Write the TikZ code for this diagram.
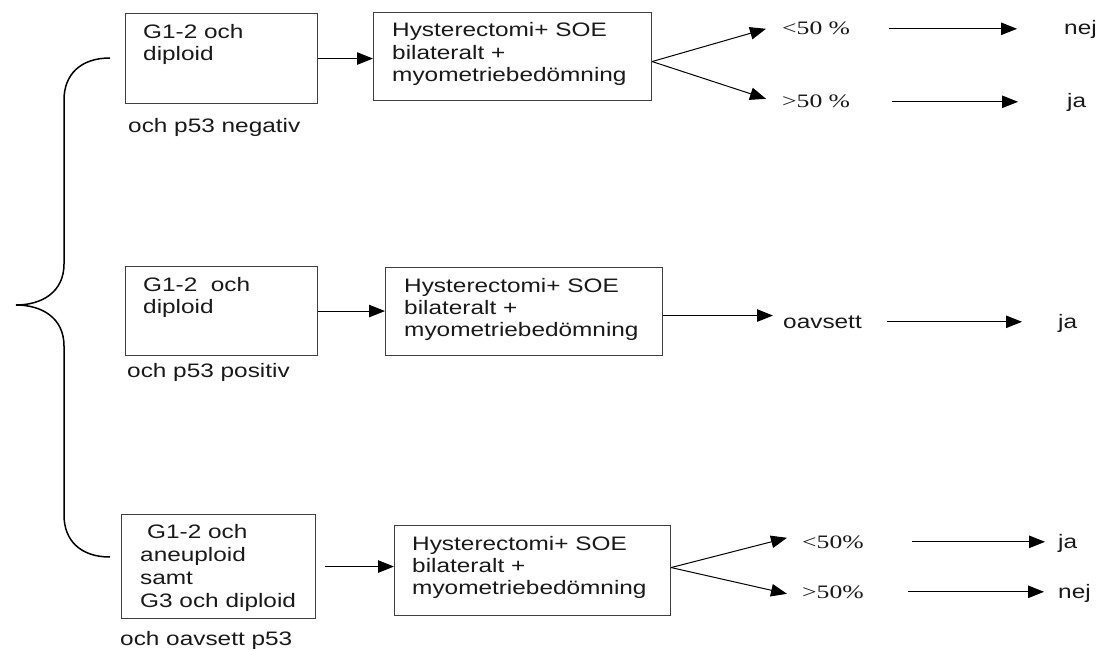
\documentclass[tikz,border=0pt]{standalone}
\usepackage{fontspec}
\setmainfont{Liberation Sans}[FakeStretch=1.25]
\newfontfamily\pctfont{Liberation Serif}[FakeStretch=1.35]
\usetikzlibrary{arrows.meta,calc}
\tikzset{
  box/.style={draw=black!75, line width=1.1pt, anchor=north west, inner sep=0pt},
  txt/.style={anchor=base west, inner sep=0pt, align=left, text=black!90, font=\fontsize{19.5}{22.3}\selectfont},
  pct/.style={anchor=base west, inner sep=0pt, text=black!90, font=\pctfont\fontsize{19}{21}\selectfont},
  arr/.style={draw=black, line width=1pt, -{Triangle[length=16pt,width=12.5pt]}},
  bracestyle/.style={draw=black, line width=1.5pt}
}
\begin{document}
\begin{tikzpicture}[x=1pt,y=-1pt]
\useasboundingbox (0,0) rectangle (1113,650);
% ---------- row 1  (multi-line text nodes: base = baseline of last line)
\node[box, minimum width=192pt, minimum height=90pt] (A1) at (125,13) {};
\node[txt] (A1t) at (143,60.5) {G1-2 och\\diploid};
\node[txt] (L1) at (128,132) {och p53 negativ};
\node[box, minimum width=278pt, minimum height=88pt] (B1) at (373,12) {};
\node[txt] (B1t) at (392,81.6) {Hysterectomi+ SOE\\bilateralt +\\myometriebedömning};
\node[pct] (p1) at (782,35) {<50 \%};
\node[pct] (p2) at (782,108) {>50 \%};
\node[txt] (o1) at (1064,35) {nej};
\node[txt] (o2) at (1067,108) {ja};
\draw[arr] (A1.east) -- (A1.east -| B1.west);
\coordinate (b1) at ([yshift=-5pt]B1.east);
\draw[arr] (b1) -- ($(p1.west)+(-16,0)$);
\draw[arr] (b1) -- ($(p2.west)+(-16,-3)$);
\draw[arr] ($(p1.west)+(107,0)$) -- ($(p1.west -| o1.west)+(-47,0)$);
\draw[arr] ($(p2.west)+(110,0)$) -- ($(p2.west -| o2.west)+(-49,0)$);
% ---------- row 2
\node[box, minimum width=192pt, minimum height=89pt] (A2) at (125,266) {};
\node[txt] (A2t) at (143,313.3) {G1-2\ \ och\\diploid};
\node[txt] (L2) at (127,377) {och p53 positiv};
\node[box, minimum width=277pt, minimum height=88pt] (B2) at (385,267) {};
\node[txt] (B2t) at (404,336.6) {Hysterectomi+ SOE\\bilateralt +\\myometriebedömning};
\node[txt] (p3) at (783,328) {oavsett};
\node[txt] (o3) at (1058,328) {ja};
\draw[arr] (A2.east) -- (A2.east -| B2.west);
\coordinate (b2) at ([yshift=-4pt]B2.east);
\draw[arr] (b2) -- ($(b2 -| p3.west)+(-10,0)$);
\draw[arr] ($(p3.west)+(104,0)$) -- ($(p3.west -| o3.west)+(-36,0)$);
% ---------- row 3
\node[box, minimum width=194pt, minimum height=104pt] (A3) at (121,514) {};
\node[txt, font=\fontsize{19.5}{22.7}\selectfont] (A3t) at (140,607) {\hspace*{7pt}G1-2 och\\aneuploid\\samt\\G3 och diploid};
\node[txt] (L3) at (120,645) {och oavsett p53};
\node[box, minimum width=276pt, minimum height=90pt] (B3) at (394,525) {};
\node[txt] (B3t) at (412,594.6) {Hysterectomi+ SOE\\bilateralt +\\myometriebedömning};
\node[pct] (p4) at (802,548) {<50\%};
\node[pct] (p5) at (802,598) {>50\%};
\node[txt] (o4) at (1058,548) {ja};
\node[txt] (o5) at (1058,598) {nej};
\draw[arr, shorten <=9pt] (A3.east) -- (A3.east -| B3.west);
\coordinate (b3) at ([yshift=3pt]B3.east);
\draw[arr] (b3) -- ($(p4.west)+(-15,-4)$);
\draw[arr] (b3) -- ($(p5.west)+(-15,2)$);
\draw[arr] ($(p4.west)+(110,0)$) -- ($(p4.west -| o4.west)+(-13,0)$);
\draw[arr] ($(p5.west)+(106,0)$) -- ($(p5.west -| o5.west)+(-14,0)$);
% ---------- brace
\draw[bracestyle] (110,58) .. controls (80,58) and (64,75) .. (64,100) -- (64,264)
  .. controls (64,292) and (42,305) .. (16,305)
  .. controls (42,305) and (64,318) .. (64,346) -- (64,515)
  .. controls (64,540) and (80,557) .. (110,557);
\end{tikzpicture}
\end{document}
